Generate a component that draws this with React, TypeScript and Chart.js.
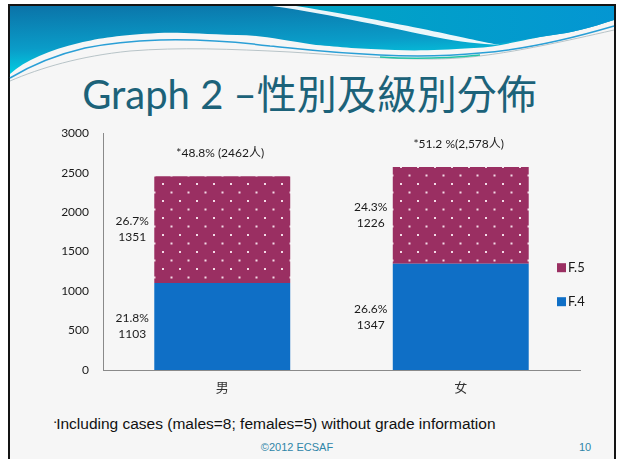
import React, { useEffect, useRef } from "react";
import { Chart, registerables } from "chart.js";

Chart.register(...registerables);

const categories = ["男", "女"];
const seriesNames = ["F.4", "F.5"];
const f4Values = [1103, 1347];
const f5Values = [1351, 1226];
const f4Pct = ["21.8%", "26.6%"];
const f5Pct = ["26.7%", "24.3%"];
const totalLabels = ["*48.8% (2462人)", "*51.2 %(2,578人)"];
const yTicksMax = 3000;
const yTicksStep = 500;

const BLUE = "#0f6fc6";
const PLUM = "#9a2f62";
const LATIN = "Lato, 'Noto Sans CJK TC', sans-serif";

function makePattern(): CanvasPattern | string {
  const c = document.createElement("canvas");
  c.width = 17;
  c.height = 17;
  const g = c.getContext("2d");
  if (!g) return PLUM;
  g.fillStyle = PLUM;
  g.fillRect(0, 0, 17, 17);
  g.fillStyle = "#f3dbe6";
  g.fillRect(3, 3, 2, 2);
  g.fillRect(11.5, 11.5, 2, 2);
  const p = g.createPattern(c, "repeat");
  return p || PLUM;
}

const labelPlugin = {
  id: "labelPlugin",
  afterDatasetsDraw(chart: any) {
    const ctx = chart.ctx;
    ctx.save();
    ctx.font = `12px ${LATIN}`;
    ctx.fillStyle = "#1a1a1a";
    ctx.textAlign = "center";
    ctx.textBaseline = "middle";
    const pctSets = [f4Pct, f5Pct];
    const valSets = [f4Values, f5Values];
    chart.data.datasets.forEach((ds: any, di: number) => {
      const meta = chart.getDatasetMeta(di);
      meta.data.forEach((bar: any, j: number) => {
        const mid = (bar.y + bar.base) / 2;
        const x = bar.x - bar.width / 2 - 22;
        ctx.fillText(pctSets[di][j], x, mid - 8);
        ctx.fillText(String(valSets[di][j]), x, mid + 8);
      });
    });
    const topMeta = chart.getDatasetMeta(chart.data.datasets.length - 1);
    topMeta.data.forEach((bar: any, j: number) => {
      ctx.fillText(totalLabels[j], bar.x - 2, bar.y - 23);
    });
    // legend (reverse order)
    const area = chart.chartArea;
    const items = [
      { name: seriesNames[1], color: PLUM, y: area.top + 134 },
      { name: seriesNames[0], color: BLUE, y: area.top + 168 },
    ];
    ctx.textAlign = "left";
    ctx.font = `13px ${LATIN}`;
    items.forEach((it) => {
      ctx.fillStyle = it.color;
      ctx.fillRect(area.right - 23, it.y - 4, 9, 9);
      ctx.fillStyle = "#1a1a1a";
      ctx.fillText(it.name, area.right - 12, it.y + 1);
    });
    ctx.restore();
  },
};

function ChartBox() {
  const ref = useRef<HTMLCanvasElement | null>(null);
  useEffect(() => {
    if (!ref.current) return;
    const chart = new Chart(ref.current, {
      type: "bar",
      data: {
        labels: categories,
        datasets: [
          {
            label: seriesNames[0],
            data: f4Values,
            backgroundColor: BLUE,
            borderWidth: 0,
            barPercentage: 0.57,
            categoryPercentage: 1,
          },
          {
            label: seriesNames[1],
            data: f5Values,
            backgroundColor: makePattern() as any,
            borderWidth: 0,
            barPercentage: 0.57,
            categoryPercentage: 1,
          },
        ],
      },
      options: {
        animation: false,
        responsive: false,
        maintainAspectRatio: false,
        layout: { padding: { left: 0, right: 20, top: 3, bottom: 0 } },
        plugins: { legend: { display: false }, tooltip: { enabled: false } },
        scales: {
          x: {
            stacked: true,
            grid: { display: false, drawTicks: false },
            border: { display: true, color: "#8a8a8a", width: 1 },
            ticks: {
              padding: 9,
              color: "#333",
              font: { size: 13, family: "'Noto Sans CJK TC', sans-serif" },
            },
            afterFit: (s: any) => {
              s.height = 30;
            },
          },
          y: {
            stacked: true,
            min: 0,
            max: yTicksMax,
            grid: { display: false, drawTicks: false },
            border: { display: true, color: "#8a8a8a", width: 1 },
            ticks: {
              stepSize: yTicksStep,
              padding: 14,
              color: "#1a1a1a",
              font: { size: 12, family: LATIN },
              callback: (v: any) => String(v),
            },
            afterFit: (s: any) => {
              s.width = 63;
            },
          },
        },
      },
      plugins: [labelPlugin],
    });
    return () => chart.destroy();
  }, []);
  return (
    <canvas
      ref={ref}
      width={560}
      height={288}
      style={{ position: "absolute", left: 40, top: 112, width: 560, height: 288 }}
    />
  );
}

export default function App() {
  return (
    <div
      style={{
        position: "fixed",
        left: 0,
        top: 0,
        width: 619,
        height: 459,
        background: "#ffffff",
        overflow: "hidden",
      }}
    >
      <div
        style={{
          position: "absolute",
          left: 8,
          top: 4,
          width: 608,
          height: 480,
          boxSizing: "border-box",
          border: "2px solid #141414",
          background: "#f6f6f6",
        }}
      />
      <svg
        width={619}
        height={459}
        viewBox="0 0 619 459"
        style={{ position: "absolute", left: 0, top: 0 }}
      >
        <defs>
          <linearGradient id="bg" x1="0" y1="0" x2="0.25" y2="1">
            <stop offset="0" stopColor="#0b73a8" />
            <stop offset="0.6" stopColor="#0a9cc8" />
            <stop offset="1" stopColor="#00d6e6" />
          </linearGradient>
          <linearGradient id="bg2" x1="0" y1="0" x2="1" y2="0">
            <stop offset="0" stopColor="#00a5c4" />
            <stop offset="1" stopColor="#0496d2" />
          </linearGradient>
        </defs>
        <path
          d="M10,6 L614,6 L614,20 C 590,28 570,33 553,35 C 520,40 500,47 474,48 C 440,50 420,51 395,50 C 360,49 340,47 316,45 C 280,40 260,35 237,35 C 200,34 180,32 158,33 C 120,35 100,38 79,43 C 50,50 25,60 10,74 Z"
          fill="url(#bg)"
        />
        <path
          d="M290,6 L614,6 L614,20 C 590,28 570,33 553,35 C 530,38 510,42 494,44 C 470,40 420,25 290,6 Z"
          fill="url(#bg2)"
        />
        <path
          d="M272,6 C 330,14 400,30 435,37 C 460,42 480,44 500,45 C 470,40 420,26 296,6 Z"
          fill="#ffffff"
          opacity={0.92}
        />
        <path
          d="M10,78 C 30,66 55,55 85,48 C 110,43 130,41 160,40 C 200,39 230,41 270,46 C 300,49 330,53 380,55 C 420,57 450,56 480,53 C 520,50 560,42 614,26"
          fill="none"
          stroke="#2a9fd6"
          strokeWidth={1.5}
        />
        <path
          d="M10,81 C 40,68 80,56 130,51 C 180,47 230,49 290,52 C 340,55 380,59 430,59 C 470,59 510,54 614,30"
          fill="none"
          stroke="#b8c4c8"
          strokeWidth={1}
        />
        <path
          d="M380,57 C 420,60 450,58 480,55"
          fill="none"
          stroke="#22c4a8"
          strokeWidth={1.5}
        />
      </svg>
      <div
        style={{
          position: "absolute",
          left: 0,
          width: 619,
          top: 70,
          textAlign: "center",
          fontFamily: "Lato, 'Noto Sans CJK TC', sans-serif",
          fontSize: 40,
          lineHeight: "48px",
          color: "#1c6279",
          whiteSpace: "nowrap",
          paddingRight: 4,
        }}
      >
        Graph 2 –性別及級別分佈
      </div>
      <ChartBox />
      <div
        style={{
          position: "absolute",
          left: 54,
          top: 415,
          fontFamily: "'Liberation Sans', Arial, sans-serif",
          fontSize: 15.5,
          color: "#111",
          whiteSpace: "nowrap",
        }}
      >
        <span style={{ fontSize: 6, verticalAlign: "5px" }}>▪</span>Including cases (males=8; females=5) without grade information
      </div>
      <div
        style={{
          position: "absolute",
          left: 0,
          width: 594,
          top: 441,
          textAlign: "center",
          fontFamily: "'Liberation Sans', Arial, sans-serif",
          fontSize: 11,
          color: "#2f85a8",
        }}
      >
        ©2012 ECSAF
      </div>
      <div
        style={{
          position: "absolute",
          left: 579,
          top: 441,
          fontFamily: "'Liberation Sans', Arial, sans-serif",
          fontSize: 11,
          color: "#2f85a8",
        }}
      >
        10
      </div>
    </div>
  );
}
